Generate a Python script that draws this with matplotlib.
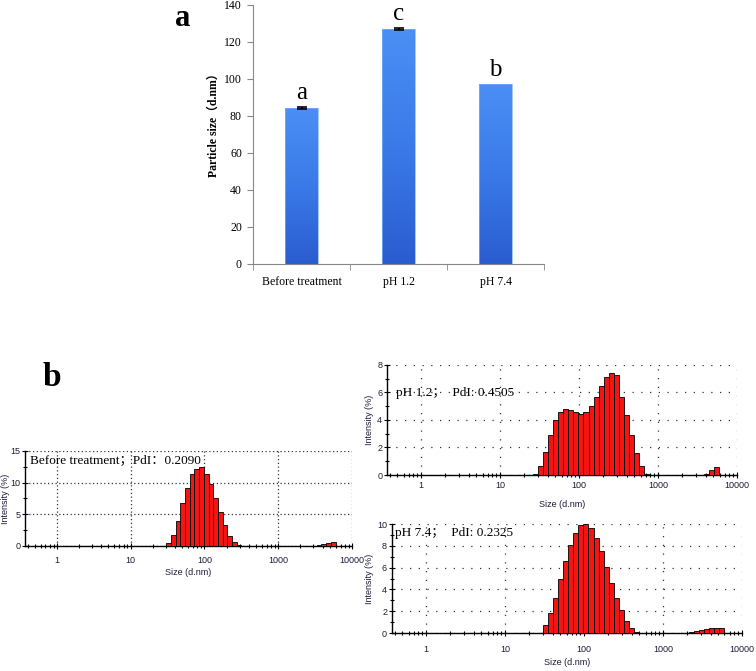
import numpy as np
import matplotlib
matplotlib.use("Agg")
import matplotlib.pyplot as plt
from matplotlib.colors import LinearSegmentedColormap
from matplotlib.ticker import MultipleLocator, FixedLocator, LogLocator, NullFormatter

# ---- panel a: mean particle size ----
groups = ["Before treatment", "pH 1.2", "pH 7.4"]
mean_size = [84.3, 127.0, 97.3]
size_err = [0.4, 0.6, 0.0]
letters = ["a", "c", "b"]

# ---- panel b: DLS size classes (d.nm) and intensity (%) ----
size_classes = [28.21, 32.67, 37.84, 43.82, 50.75, 58.77, 68.06, 78.82, 91.28, 105.7,
                122.4, 141.8, 164.2, 190.1, 220.2, 255.0, 295.3, 342.0, 396.1, 458.7,
                531.2, 615.1, 712.4, 825.0, 955.4, 1106, 1281, 1484, 1718, 1990,
                2305, 2669, 3091, 3580, 4145, 4801, 5560, 6439]
int_before = [0, 0.5, 1.8, 3.9, 6.8, 9.2, 11.3, 12.2, 12.5, 11.4,
              9.8, 7.6, 5.4, 3.3, 1.6, 0.7, 0.1, 0, 0, 0,
              0, 0, 0, 0, 0, 0, 0, 0, 0, 0,
              0, 0, 0.05, 0.15, 0.3, 0.55, 0.7, 0]
int_ph12 = [0.1, 0.65, 1.7, 2.9, 4.0, 4.6, 4.8, 4.75, 4.6, 4.45,
            4.55, 5.0, 5.7, 6.45, 7.1, 7.45, 7.3, 5.65, 4.35, 2.9,
            1.6, 0.65, 0.1, 0, 0, 0, 0, 0, 0, 0,
            0, 0, 0, 0, 0.1, 0.35, 0.6, 0]
int_ph74 = [0, 0.7, 1.8, 3.25, 4.95, 6.6, 8.05, 9.2, 9.9, 10.0,
            9.6, 8.7, 7.5, 6.1, 4.6, 3.2, 2.1, 1.1, 0.5, 0.05,
            0, 0, 0, 0, 0, 0, 0, 0, 0, 0,
            0.05, 0.15, 0.3, 0.4, 0.5, 0.5, 0.5, 0]

serif = ["Liberation Serif", "Noto Sans CJK SC"]
sans = ["Liberation Sans", "DejaVu Sans"]

fig = plt.figure(figsize=(7.56, 6.71), dpi=100)

# ================= panel a =================
ax = fig.add_axes([0.3347, 0.6066, 0.385, 0.386])
x = np.arange(len(groups))
bars = ax.bar(x, mean_size, width=0.34, color="none", edgecolor="#7fb0f5", linewidth=0.5, zorder=3)
cmap = LinearSegmentedColormap.from_list("barblue", ["#2a5cd0", "#3a7ae8", "#4b8ff5"])
grad = np.linspace(0, 1, 256).reshape(-1, 1)
for b in bars:
    x0, w, h = b.get_x(), b.get_width(), b.get_height()
    im = ax.imshow(grad, extent=[x0, x0 + w, 0, h], origin="lower", cmap=cmap,
                   aspect="auto", zorder=2)
    im.set_clip_path(b)

for i in range(len(groups)):
    if size_err[i] > 0:
        ax.errorbar(x[i], mean_size[i], yerr=size_err[i], fmt="none", ecolor="black",
                    elinewidth=1.2, capsize=3.5, capthick=1.2, zorder=4)
    ax.text(x[i], mean_size[i] + size_err[i] + 4.5, letters[i], ha="center", va="baseline",
            fontsize=18, family=serif)

ax.set_xlim(-0.5, 2.5)
ax.set_ylim(0, 140)
ax.yaxis.set_major_locator(MultipleLocator(20))
ax.set_xticks(x)
ax.set_xticklabels(groups, family=serif, fontsize=8.5)
ax.xaxis.set_minor_locator(FixedLocator([-0.5, 0.5, 1.5, 2.5]))
ax.tick_params(axis="x", which="major", length=0, pad=9)
ax.tick_params(axis="x", which="minor", length=4, color="#888888", direction="out")
ax.tick_params(axis="y", length=4, color="#888888", pad=4, labelsize=8.5)
for t in ax.get_yticklabels():
    t.set_family(serif)
for s in ["top", "right"]:
    ax.spines[s].set_visible(False)
for s in ["left", "bottom"]:
    ax.spines[s].set_color("#888888")
ax.set_ylabel("Particle size（d.nm）", family=serif, fontsize=8.5, fontweight="bold")
ax.yaxis.set_label_coords(-0.115, 0.546)

fig.text(0.242, 0.972, "a", family=serif, fontsize=22, fontweight="bold", ha="center", va="center")
fig.text(0.069, 0.438, "b", family=serif, fontsize=24, fontweight="bold", ha="center", va="center")


# ================= panel b =================
def dls_panel(rect, vals, ymax, ystep, yminor, label, text_xy, dots, tickpad):
    a = fig.add_axes(rect)
    sizes = np.array(size_classes)
    v = np.array(vals)
    r = np.sqrt(sizes[1] / sizes[0])
    left = sizes / r
    width = sizes * r - left
    m = v > 0
    a.bar(left[m], v[m], width=width[m], align="edge", color="#f41414",
          edgecolor="black", linewidth=0.6, zorder=3)
    a.set_xscale("log")
    a.set_xlim(0.37, 10000)
    a.set_ylim(0, ymax)
    a.xaxis.set_major_locator(FixedLocator([1, 10, 100, 1000, 10000]))
    a.set_xticklabels(["1", "10", "100", "1000", "10000"])
    a.xaxis.set_minor_locator(LogLocator(base=10, subs=np.arange(2, 10), numticks=20))
    a.xaxis.set_minor_formatter(NullFormatter())
    a.yaxis.set_major_locator(MultipleLocator(ystep))
    a.yaxis.set_minor_locator(MultipleLocator(yminor))
    a.grid(True, which="major", color="#333344", linestyle=(0, (1, dots)), linewidth=0.9)
    a.set_axisbelow(True)
    a.tick_params(which="major", direction="inout", length=5, width=0.8,
                  labelsize=6.5, labelcolor="#1c1c38", pad=tickpad)
    a.tick_params(which="minor", direction="inout", length=3.5, width=0.8)
    a.tick_params(axis="y", pad=1)
    for t in a.get_xticklabels() + a.get_yticklabels():
        t.set_family(sans)
    for s in ["top", "right"]:
        a.spines[s].set_visible(False)
    for s in ["left", "bottom"]:
        a.spines[s].set_linewidth(1.0)
    a.set_xlabel("Size (d.nm)", family=sans, fontsize=6.5, color="#1c1c38")
    a.xaxis.set_label_coords(0.5, -0.23)
    a.set_ylabel("Intensity (%)", family=sans, fontsize=6.5, color="#1c1c38")
    a.text(text_xy[0], text_xy[1], label, transform=a.transAxes, ha="left", va="center",
           fontsize=9.5, family=serif, zorder=5)
    return a


ax1 = dls_panel([0.0331, 0.1863, 0.4325, 0.1416], int_before, 15, 5, 2.5,
                "Before treatment；PdI：0.2090", (0.015, 0.905), 2, 5)
ax1.yaxis.set_label_coords(-0.047, 0.5)

ax2 = dls_panel([0.5119, 0.2921, 0.463, 0.164], int_ph12, 8, 2, 1,
                "pH 1.2；  PdI: 0.4505", (0.026, 0.745), 6, 1.5)
ax2.yaxis.set_label_coords(-0.036, 0.5)

ax3 = dls_panel([0.5185, 0.0566, 0.463, 0.1624], int_ph74, 10, 2, 1,
                "pH 7.4；  PdI: 0.2325", (0.009, 0.917), 6, 6)
ax3.yaxis.set_label_coords(-0.05, 0.5)

fig.savefig("out.png", dpi=100)
